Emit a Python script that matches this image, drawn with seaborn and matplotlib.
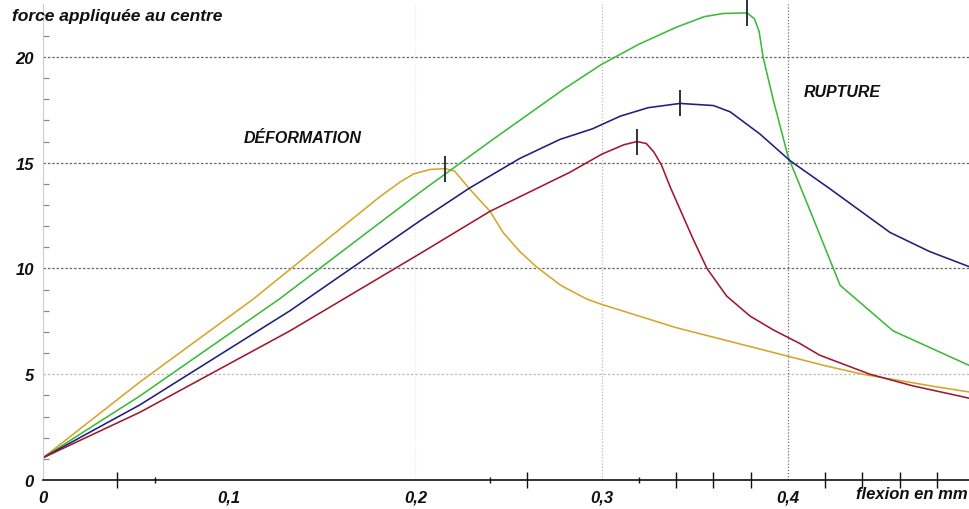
import matplotlib
matplotlib.use("Agg")
import matplotlib.pyplot as plt
import seaborn as sns
import pandas as pd

# ---- data ----
yellow_x = [0.0, 0.052, 0.113, 0.181, 0.192, 0.199, 0.208, 0.216, 0.221, 0.229, 0.240, 0.247,
            0.256, 0.265, 0.278, 0.292, 0.300, 0.320, 0.340, 0.360, 0.380, 0.400, 0.420,
            0.440, 0.460, 0.480, 0.498]
yellow_y = [1.05, 4.63, 8.56, 13.4, 14.1, 14.47, 14.68, 14.72, 14.6, 13.76, 12.7, 11.7,
            10.8, 10.07, 9.2, 8.55, 8.3, 7.75, 7.2, 6.75, 6.3, 5.85, 5.4,
            5.0, 4.7, 4.4, 4.15]

green_x = [0.0, 0.052, 0.127, 0.2024, 0.2416, 0.280, 0.300, 0.320, 0.340, 0.355, 0.365, 0.378,
           0.382, 0.3845, 0.3866, 0.392, 0.400, 0.412, 0.428, 0.4564, 0.4977]
green_y = [1.05, 3.97, 8.56, 13.6, 16.1, 18.5, 19.65, 20.6, 21.4, 21.9, 22.05, 22.08,
           21.8, 21.2, 20.0, 18.0, 15.3, 12.7, 9.2, 7.05, 5.4]

blue_x = [0.0, 0.052, 0.1326, 0.2024, 0.229, 0.256, 0.2776, 0.295, 0.310, 0.325, 0.342, 0.360,
          0.369, 0.385, 0.401, 0.4226, 0.4548, 0.476, 0.4977]
blue_y = [1.05, 3.55, 8.0, 12.25, 13.8, 15.2, 16.1, 16.6, 17.2, 17.6, 17.8, 17.7,
          17.4, 16.35, 15.1, 13.76, 11.7, 10.8, 10.07]

red_x = [0.0, 0.052, 0.1326, 0.2024, 0.240, 0.283, 0.300, 0.312, 0.319, 0.324, 0.328, 0.332,
         0.337, 0.342, 0.349, 0.3565, 0.367, 0.3796, 0.392, 0.4064, 0.417, 0.444, 0.467,
         0.492, 0.498]
red_y = [1.05, 3.2, 7.05, 10.7, 12.7, 14.55, 15.4, 15.85, 16.0, 15.9, 15.5, 14.9,
         13.8, 12.8, 11.4, 10.0, 8.7, 7.75, 7.1, 6.45, 5.9, 5.0, 4.45,
         3.97, 3.85]

# rupture markers (peak of each curve)
peak_x = [0.216, 0.319, 0.342, 0.378]
peak_y = [14.72, 16.0, 17.8, 22.08]

y_major = [0, 5, 10, 15, 20]
y_minor = list(range(1, 23))
x_major = [0.0, 0.1, 0.2, 0.3, 0.4]
x_major_labels = ["0", "0,1", "0,2", "0,3", "0,4"]
x_minor_long = [0.04, 0.26, 0.34, 0.36, 0.38, 0.42, 0.44, 0.46, 0.48]
x_minor_short = [0.06, 0.24, 0.32, 0.40]
vgrid = [0.2, 0.3, 0.4]
vgrid_alpha = [0.12, 0.35, 0.75]

colors = {"jaune": "#d4a62a", "vert": "#3cba3c", "bleu": "#1e1f7c", "rouge": "#a01830"}

frames = []
for name, xs, ys in [("jaune", yellow_x, yellow_y), ("vert", green_x, green_y),
                     ("bleu", blue_x, blue_y), ("rouge", red_x, red_y)]:
    frames.append(pd.DataFrame({"flexion": xs, "force": ys, "serie": name}))
df = pd.concat(frames, ignore_index=True)

sns.set_theme(style="white")
plt.rcParams["font.family"] = ["Liberation Sans", "DejaVu Sans"]

fig = plt.figure(figsize=(9.7, 5.1), dpi=100)
ax = fig.add_axes([43 / 970, 29 / 510, 927 / 970, 476 / 510])

sns.lineplot(data=df, x="flexion", y="force", hue="serie", palette=colors,
             sort=False, estimator=None, legend=False, linewidth=1.15, ax=ax)

ax.plot(peak_x, peak_y, linestyle="none", marker="|", markersize=19,
        markeredgewidth=1.3, color="#222222", clip_on=False, zorder=5)

ax.set_xlim(0, 927 / 1862.5)
ax.set_ylim(0, 22.5)

# grid
for v, a in zip(vgrid, vgrid_alpha):
    ax.axvline(v, color="#444444", alpha=a, linestyle=(0, (1, 1.5)), linewidth=0.9, zorder=0)
for lvl in y_major[1:]:
    ax.axhline(lvl, color="#444444", alpha=0.35 if lvl == 5 else 0.8,
               linestyle=(0, (2, 1.5)), linewidth=0.9, zorder=0)

# spines
for s in ["top", "right"]:
    ax.spines[s].set_visible(False)
ax.spines["left"].set_color("#cccccc")
ax.spines["left"].set_linewidth(0.8)
ax.spines["bottom"].set_color("#111111")
ax.spines["bottom"].set_linewidth(1.2)

fkw = dict(fontweight="bold", fontstyle="italic", color="#111111")

ax.set_yticks(y_major)
ax.set_yticklabels([str(v) for v in y_major], fontsize=12, **fkw)
ax.set_yticks(y_minor, minor=True)
ax.tick_params(axis="y", which="major", direction="inout", length=7, width=1.0,
               color="#666666", pad=3)
ax.tick_params(axis="y", which="minor", direction="in", length=4, width=0.9,
               color="#888888", left=True)

ax.set_xticks(x_major)
ax.set_xticklabels(x_major_labels, fontsize=12, **fkw)
ax.tick_params(axis="x", which="major", length=0, pad=7)
ax.set_xticks(x_minor_long + x_minor_short, minor=True)
ax.tick_params(axis="x", which="minor", direction="inout", length=11, width=1.0,
               color="#111111", bottom=True)
for tk, val in zip(ax.xaxis.get_minor_ticks(), x_minor_long + x_minor_short):
    if val in x_minor_short:
        tk.tick1line.set_markersize(5)
        tk.tick1line.set_color("#555555")

ax.set_xlabel("")
ax.set_ylabel("")
fig.text(12 / 970, 1 - 16 / 510, "force appliquée au centre", fontsize=12.5,
         ha="left", va="center", **fkw)
fig.text(968 / 970, 1 - 495 / 510, "flexion en mm", fontsize=12,
         ha="right", va="center", **fkw)

ax.text(0.1396, 16.2, "DÉFORMATION", fontsize=11.5, ha="center", va="center", **fkw)
ax.text(0.429, 18.35, "RUPTURE", fontsize=11.5, ha="center", va="center", **fkw)

fig.savefig("out.png", dpi=100, facecolor="white")
